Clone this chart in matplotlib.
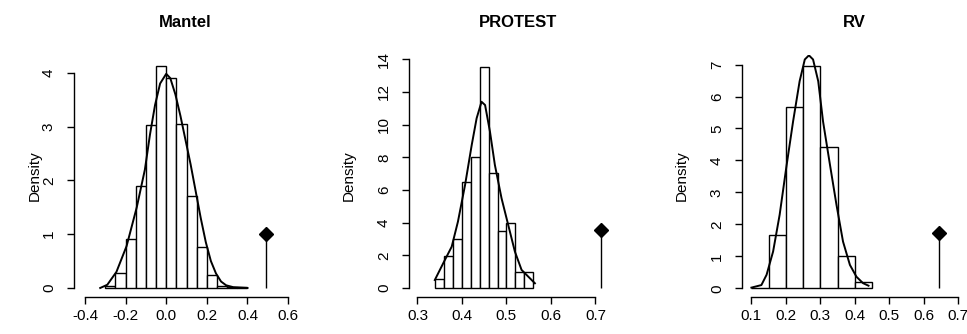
import numpy as np
import matplotlib
matplotlib.use("Agg")
import matplotlib.pyplot as plt

plt.rcParams['font.family'] = ['Liberation Sans', 'DejaVu Sans']

# ---- data ----
titles = ["Mantel", "PROTEST", "RV"]

mantel_edges = [-0.30, -0.25, -0.20, -0.15, -0.10, -0.05, 0.00, 0.05, 0.10, 0.15, 0.20, 0.25, 0.30, 0.35, 0.40]
mantel_heights = [0.04, 0.28, 0.91, 1.90, 3.02, 4.12, 3.90, 3.05, 1.71, 0.77, 0.25, 0.04, 0.02, 0.01]
mantel_curve_x = [-0.325, -0.29, -0.245, -0.195, -0.145, -0.105, -0.08, -0.055, -0.03, 0.0, 0.02, 0.045,
                  0.07, 0.095, 0.12, 0.145, 0.17, 0.195, 0.22, 0.245, 0.27, 0.295, 0.33, 0.40]
mantel_curve_y = [0.0, 0.06, 0.30, 0.78, 1.50, 2.20, 2.85, 3.40, 3.80, 3.98, 3.90, 3.60,
                  3.20, 2.75, 2.30, 1.80, 1.30, 0.85, 0.50, 0.27, 0.12, 0.05, 0.015, 0.0]
mantel_obs = (0.49, 1.0)

protest_edges = [0.34, 0.36, 0.38, 0.40, 0.42, 0.44, 0.46, 0.48, 0.50, 0.52, 0.54, 0.56]
protest_heights = [0.55, 1.97, 3.0, 6.5, 8.04, 13.55, 7.07, 3.52, 3.97, 0.98, 0.98]
protest_curve_x = [0.339, 0.358, 0.377, 0.391, 0.407, 0.422, 0.433, 0.444, 0.452, 0.463, 0.474,
                   0.489, 0.504, 0.519, 0.534, 0.549, 0.564]
protest_curve_y = [0.5, 1.53, 2.54, 4.07, 6.31, 8.76, 10.39, 11.4, 11.2, 9.57, 7.54,
                   5.5, 3.87, 2.24, 1.12, 0.71, 0.3]
protest_obs = (0.712, 3.55)

rv_edges = [0.10, 0.15, 0.20, 0.25, 0.30, 0.35, 0.40, 0.45]
rv_heights = [0.02, 1.67, 5.67, 6.95, 4.41, 1.02, 0.19]
rv_curve_x = [0.10, 0.129, 0.144, 0.163, 0.182, 0.201, 0.221, 0.240, 0.255, 0.267, 0.279, 0.294,
              0.308, 0.328, 0.347, 0.366, 0.386, 0.405, 0.424, 0.44]
rv_curve_y = [0.02, 0.10, 0.42, 1.15, 2.30, 3.76, 5.22, 6.48, 7.16, 7.29, 7.16, 6.48,
              5.22, 3.87, 2.61, 1.46, 0.73, 0.36, 0.16, 0.08]
rv_obs = (0.644, 1.74)

panels = [
    dict(edges=mantel_edges, h=mantel_heights, cx=mantel_curve_x, cy=mantel_curve_y, obs=mantel_obs,
         xlim=(-0.454, 0.639), ylim=(-0.162, 4.33),
         xticks=[-0.4, -0.2, 0.0, 0.2, 0.4, 0.6], xlabels=["-0.4", "-0.2", "0.0", "0.2", "0.4", "0.6"],
         yticks=[0, 1, 2, 3, 4], px=(74, 296), ylab=39),
    dict(edges=protest_edges, h=protest_heights, cx=protest_curve_x, cy=protest_curve_y, obs=protest_obs,
         xlim=(0.281, 0.771), ylim=(-0.52, 14.26),
         xticks=[0.3, 0.4, 0.5, 0.6, 0.7], xlabels=["0.3", "0.4", "0.5", "0.6", "0.7"],
         yticks=[0, 2, 4, 6, 8, 10, 12, 14], px=(409, 627), ylab=60),
    dict(edges=rv_edges, h=rv_heights, cx=rv_curve_x, cy=rv_curve_y, obs=rv_obs,
         xlim=(0.0727, 0.723), ylim=(-0.264, 7.30),
         xticks=[0.1, 0.2, 0.3, 0.4, 0.5, 0.6, 0.7], xlabels=["0.1", "0.2", "0.3", "0.4", "0.5", "0.6", "0.7"],
         yticks=[0, 1, 2, 3, 4, 5, 6, 7], px=(742, 966), ylab=60),
]

W, H = 967, 334
fig = plt.figure(figsize=(W / 100, H / 100), dpi=100)
top_px, bot_px = 55, 296.7

for title, p in zip(titles, panels):
    l, r = p["px"]
    ax = fig.add_axes([l / W, 1 - bot_px / H, (r - l) / W, (bot_px - top_px) / H])
    edges = np.array(p["edges"])
    ax.bar(edges[:-1], p["h"], width=np.diff(edges), align="edge",
           facecolor="white", edgecolor="black", linewidth=1.0, zorder=2)
    ax.plot(p["cx"], p["cy"], color="black", linewidth=1.4, zorder=3)
    ox, oy = p["obs"]
    ax.vlines(ox, 0, oy, color="black", linewidth=1.0, zorder=3)
    ax.plot([ox], [oy], marker="D", color="black", markersize=7.5, zorder=4)

    ax.set_xlim(*p["xlim"])
    ax.set_ylim(*p["ylim"])
    ax.set_xticks(p["xticks"])
    ax.set_xticklabels(p["xlabels"])
    ax.set_yticks(p["yticks"])
    ax.set_yticklabels([str(t) for t in p["yticks"]], rotation=90, va="center")
    for s in ["top", "right"]:
        ax.spines[s].set_visible(False)
    ax.spines["left"].set_bounds(p["yticks"][0], p["yticks"][-1])
    ax.spines["bottom"].set_bounds(p["xticks"][0], p["xticks"][-1])
    for s in ["left", "bottom"]:
        ax.spines[s].set_linewidth(1.0)
    ax.tick_params(axis="x", direction="out", length=5, width=1.0, pad=4, labelsize=11)
    ax.tick_params(axis="y", direction="out", length=5, width=1.0, pad=8, labelsize=11)
    ax.set_ylabel("Density", fontsize=11)
    # label anchor is the right side of the rotated text
    ax.yaxis.set_label_coords(-(p["ylab"] - 7) / (r - l), 0.5)
    ax.set_title(title, fontsize=12, fontweight="bold", pad=20)

fig.savefig("out.png", dpi=100, facecolor="white")
